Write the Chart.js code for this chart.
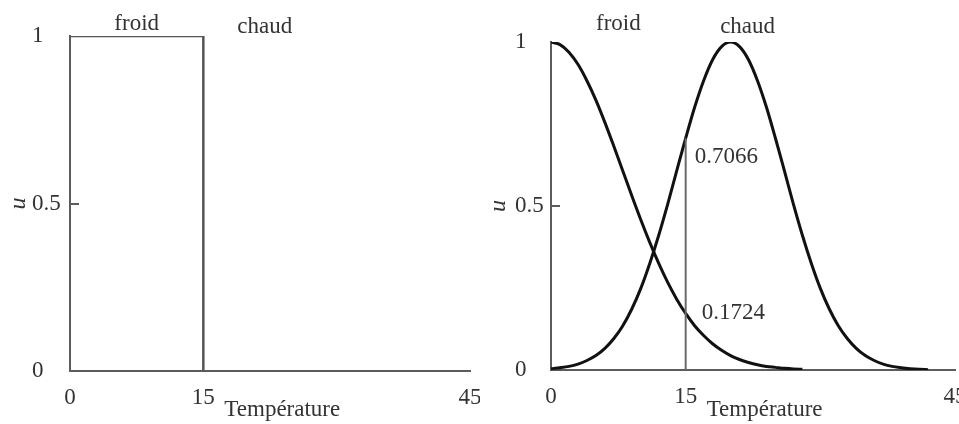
<!DOCTYPE html>
<html>
<head>
<meta charset="utf-8">
<script src="https://cdn.jsdelivr.net/npm/chart.js@4"></script>
<style>
  html, body { margin: 0; padding: 0; background: #fff; }
  #page { position: relative; width: 959px; height: 424px; overflow: hidden; }
  #crisp { position: absolute; left: 0; top: 0; }
  #fuzzy { position: absolute; left: 480px; top: 0; }
</style>
</head>
<body>
<div id="page">
  <canvas id="crisp" width="480" height="424"></canvas>
  <canvas id="fuzzy" width="500" height="424"></canvas>
</div>
<script>
// ensembles et axes
var setNames = ['froid', 'chaud'];
var xTitle = 'Température';
var xTicks = [0, 15, 45];
var yTicks = [0, 0.5, 1];

// ensemble classique "froid" : 1 jusqu'à 15, puis 0
var crispTemp = [0, 15, 15];
var crispFroid = [1, 1, 0];

// ensembles flous, lus degré par degré
var froidTemp = [0, 1, 2, 3, 4, 5, 6, 7, 8, 9, 10, 11, 12, 13, 14, 15, 16, 17, 18, 19, 20,
                 21, 22, 23, 24, 25, 26, 27, 28];
var froidValues = [1, 0.992, 0.969, 0.932, 0.882, 0.823, 0.755, 0.682, 0.607, 0.531, 0.458,
                   0.389, 0.325, 0.267, 0.216, 0.1724, 0.135, 0.105, 0.080, 0.060, 0.044,
                   0.032, 0.023, 0.016, 0.011, 0.008, 0.005, 0.003, 0.002];

var chaudTemp = [0, 1, 2, 3, 4, 5, 6, 7, 8, 9, 10, 11, 12, 13, 14, 15, 16, 17, 18, 19, 20,
                 21, 22, 23, 24, 25, 26, 27, 28, 29, 30, 31, 32, 33, 34, 35, 36, 37, 38, 39, 40,
                 41, 42];
var chaudValues = [0.004, 0.007, 0.011, 0.018, 0.029, 0.044, 0.066, 0.096, 0.135, 0.186, 0.249,
                   0.325, 0.411, 0.506, 0.607, 0.7066, 0.801, 0.882, 0.946, 0.986, 1,
                   0.986, 0.946, 0.882, 0.801, 0.7066, 0.607, 0.506, 0.411, 0.325, 0.249,
                   0.186, 0.135, 0.096, 0.066, 0.044, 0.029, 0.018, 0.011, 0.007, 0.004,
                   0.002, 0.001];

// lecture à 15 degrés
var markerTemp = 15;
var markerChaud = 0.7066;
var markerFroid = 0.1724;

var FONT = 'Liberation Serif';
var TEXT = '#333';
var AXIS = '#5c5c5c';

function pts(xs, ys) {
  return xs.map(function (x, i) { return { x: x, y: ys[i] }; });
}

// noms des ensembles, titre de l'axe, petite graduation à 0.5, valeurs lues
var annotate = {
  id: 'annotate',
  afterDraw: function (chart, args, opts) {
    var ctx = chart.ctx, x = chart.scales.x, y = chart.scales.y;
    ctx.save();
    ctx.strokeStyle = AXIS;
    ctx.lineWidth = 2;
    var ty = Math.round(y.getPixelForValue(0.5));
    ctx.beginPath();
    ctx.moveTo(x.left, ty);
    ctx.lineTo(x.left + 9, ty);
    ctx.stroke();

    ctx.font = '23px "' + FONT + '"';
    ctx.fillStyle = TEXT;
    ctx.textBaseline = 'middle';
    ctx.textAlign = 'center';
    ctx.fillText(setNames[0], x.getPixelForValue(7.5), 24);
    ctx.fillText(setNames[1], x.getPixelForValue(21.9), 27);

    ctx.textAlign = 'left';
    ctx.fillText(xTitle, x.getPixelForValue(15) + 21, 410);
    (opts.values || []).forEach(function (v) {
      ctx.fillText(v.value.toFixed(4), x.getPixelForValue(markerTemp) + v.dx,
                   y.getPixelForValue(v.value) + v.dy);
    });
    ctx.restore();
  }
};

// labelLeft : bord gauche des graduations de l'axe vertical
function scales(labelLeft, yWidth, xHeight) {
  return {
    x: {
      type: 'linear', min: 0, max: 45,
      afterBuildTicks: function (s) { s.ticks = xTicks.map(function (v) { return { value: v }; }); },
      afterFit: function (s) { s.height = xHeight; s.paddingLeft = 0; s.paddingRight = 0; },
      grid: { display: false, drawTicks: false },
      border: { display: true, color: AXIS, width: 2 },
      ticks: { padding: 13, color: TEXT, font: { family: FONT, size: 23 } }
    },
    y: {
      type: 'linear', min: 0, max: 1,
      afterBuildTicks: function (s) { s.ticks = yTicks.map(function (v) { return { value: v }; }); },
      afterFit: function (s) { s.width = yWidth - labelLeft; },
      grid: { display: false, drawTicks: false },
      border: { display: true, color: AXIS, width: 2 },
      ticks: {
        padding: 7, crossAlign: 'far', color: TEXT, font: { family: FONT, size: 23 },
        callback: function (v) { return String(v); }
      },
      title: { display: true, text: 'u', color: TEXT,
               font: { family: FONT, size: 24, style: 'italic' },
               padding: { top: 18 - labelLeft - 14, bottom: 0 } }
    }
  };
}

var common = {
  responsive: false,
  animation: false,
  events: [],
  plugins: { legend: { display: false }, tooltip: { enabled: false } },
  elements: { point: { radius: 0 } }
};

new Chart(document.getElementById('crisp'), {
  type: 'line',
  data: {
    datasets: [{
      label: setNames[0],
      data: pts(crispTemp, crispFroid),
      borderColor: '#555',
      borderWidth: 2.5,
      tension: 0
    }]
  },
  options: Object.assign({}, common, {
    layout: { padding: { left: 32, top: 36, right: 10, bottom: 0 } },
    scales: scales(32, 70, 53),
    plugins: Object.assign({}, common.plugins, { annotate: {} })
  }),
  plugins: [annotate]
});

new Chart(document.getElementById('fuzzy'), {
  type: 'line',
  data: {
    datasets: [{
      label: 'lecture',
      data: [{ x: markerTemp, y: 0 }, { x: markerTemp, y: markerChaud }],
      borderColor: '#6a6a6a',
      borderWidth: 2
    }, {
      label: setNames[0],
      data: pts(froidTemp, froidValues),
      borderColor: '#111',
      borderWidth: 3,
      cubicInterpolationMode: 'monotone'
    }, {
      label: setNames[1],
      data: pts(chaudTemp, chaudValues),
      borderColor: '#111',
      borderWidth: 3,
      cubicInterpolationMode: 'monotone'
    }]
  },
  options: Object.assign({}, common, {
    layout: { padding: { left: 35, top: 42, right: 25, bottom: 0 } },
    scales: scales(35, 71, 54),
    plugins: Object.assign({}, common.plugins, {
      annotate: { values: [
        { value: markerChaud, dx: 9, dy: 19 },
        { value: markerFroid, dx: 16, dy: 0 }
      ] }
    })
  }),
  plugins: [annotate]
});
</script>
</body>
</html>
